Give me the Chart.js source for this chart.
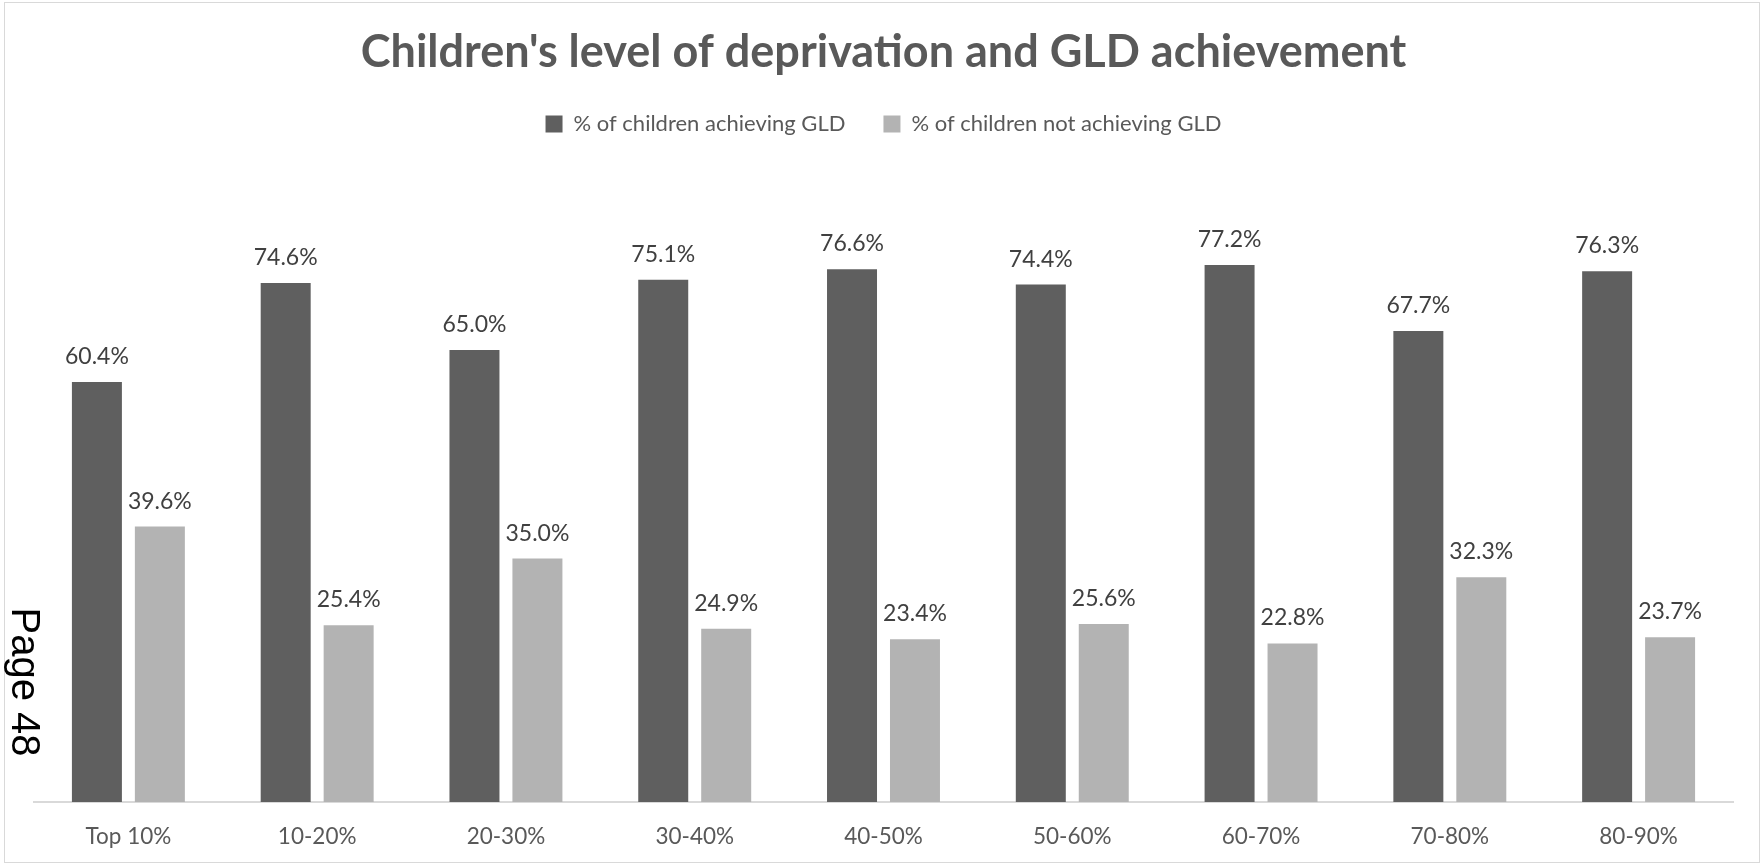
<!DOCTYPE html>
<html>
<head>
<meta charset="utf-8">
<title>Children's level of deprivation and GLD achievement</title>
<script src="https://cdn.jsdelivr.net/npm/chart.js@4.4.1/dist/chart.umd.min.js"></script>
<style>
  html, body { margin: 0; padding: 0; background: #fff; overflow: hidden; }
  #wrap { position: absolute; left: 0; top: 0; width: 1762px; height: 865px; }
  #frame {
    position: absolute; left: 4px; top: 2px; width: 1756px; height: 861px;
    border: 1px solid #d9d9d9; box-sizing: border-box; pointer-events: none;
  }
  #page-no {
    position: absolute; left: -49px; top: 662px; width: 150px; height: 40px;
    font: 40px "Liberation Sans", Arial, sans-serif; line-height: 40px;
    color: #000; white-space: nowrap; text-align: center;
    transform: rotate(90deg); transform-origin: 50% 50%;
  }
</style>
</head>
<body>
<div id="wrap">
  <canvas id="gldChart"></canvas>
</div>
<div id="frame"></div>
<div id="page-no">Page 48</div>
<script>
const DEPRIVATION_BANDS = ['Top 10%', '10-20%', '20-30%', '30-40%', '40-50%', '50-60%', '60-70%', '70-80%', '80-90%'];
const ACHIEVING_GLD = [60.4, 74.6, 65.0, 75.1, 76.6, 74.4, 77.2, 67.7, 76.3];
const NOT_ACHIEVING_GLD = [39.6, 25.4, 35.0, 24.9, 23.4, 25.6, 22.8, 32.3, 23.7];

const FONT = 'Lato, "Open Sans", sans-serif';
const TEXT_GREY = '#595959';

// value labels sitting just above every bar
const barValueLabels = {
  id: 'barValueLabels',
  afterDatasetsDraw(chart) {
    const { ctx } = chart;
    ctx.save();
    ctx.font = `23px ${FONT}`;
    ctx.fillStyle = '#404040';
    ctx.textAlign = 'center';
    ctx.textBaseline = 'alphabetic';
    chart.data.datasets.forEach((ds, di) => {
      chart.getDatasetMeta(di).data.forEach((bar, i) => {
        ctx.fillText(ds.data[i].toFixed(1) + '%', bar.x, bar.y - 18);
      });
    });
    ctx.restore();
  },
};

// extra breathing room between the legend and the bars
const legendGap = {
  id: 'legendGap',
  beforeInit(chart) {
    const origFit = chart.legend.fit;
    chart.legend.fit = function () {
      origFit.call(this);
      this.height += 31;
    };
  },
};

new Chart(document.getElementById('gldChart'), {
  type: 'bar',
  data: {
    labels: DEPRIVATION_BANDS,
    datasets: [
      {
        label: '% of children achieving GLD',
        data: ACHIEVING_GLD,
        backgroundColor: '#5f5f5f',
        categoryPercentage: 0.667,
        barPercentage: 0.794,
      },
      {
        label: '% of children not achieving GLD',
        data: NOT_ACHIEVING_GLD,
        backgroundColor: '#b3b3b3',
        categoryPercentage: 0.667,
        barPercentage: 0.794,
      },
    ],
  },
  options: {
    responsive: true,
    maintainAspectRatio: false,
    animation: false,
    layout: { padding: { left: 34, right: 29, top: 0, bottom: 0 } },
    plugins: {
      title: {
        display: true,
        text: "Children's level of deprivation and GLD achievement",
        color: TEXT_GREY,
        font: { family: FONT, size: 45, weight: 'bold', lineHeight: 1 },
        padding: { top: 30, bottom: 0 },
      },
      legend: {
        position: 'top',
        labels: {
          color: TEXT_GREY,
          font: { family: FONT, size: 22 },
          boxWidth: 17,
          boxHeight: 17,
          padding: 38,
        },
      },
      tooltip: { enabled: false },
    },
    scales: {
      x: {
        grid: { display: false, drawTicks: false },
        border: { display: true, color: '#d9d9d9', width: 2 },
        ticks: { color: TEXT_GREY, font: { family: FONT, size: 22.5 }, padding: 21 },
        afterFit(scale) { scale.height = 63; },
      },
      y: {
        display: false,
        min: 0,
        max: 90,
      },
    },
  },
  plugins: [barValueLabels, legendGap],
});
</script>
</body>
</html>
